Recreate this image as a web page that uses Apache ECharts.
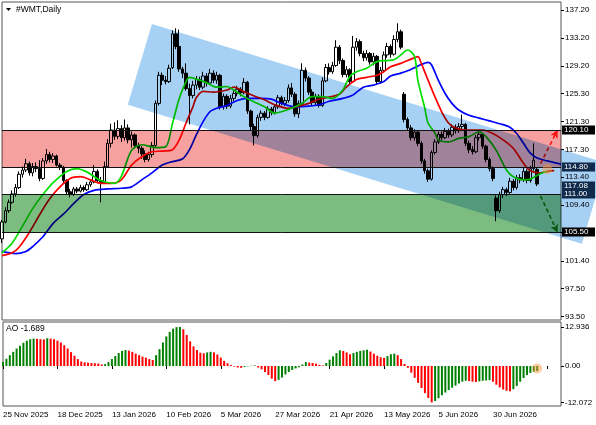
<!DOCTYPE html>
<html>
<head>
<meta charset="utf-8">
<script src="https://cdn.jsdelivr.net/npm/echarts@6/dist/echarts.min.js"></script>
<style>
html, body { margin: 0; padding: 0; background: #fff; }
#chart { width: 596px; height: 425px; }
</style>
</head>
<body>
<div id="chart"></div>
<script>
// symbol / panel captions
var symbolName = '#WMT,Daily';

// date labels, one every 16 bars
var dateTicks = ['25 Nov 2025', '18 Dec 2025', '13 Jan 2026', '10 Feb 2026', '5 Mar 2026',
    '27 Mar 2026', '21 Apr 2026', '13 May 2026', '5 Jun 2026', '30 Jun 2026'];
var tickStep = 16;
var slotCount = 165; // bars + empty room on the right

// price scale labels as printed by the terminal
var priceTicks = [137.20, 133.20, 129.20, 125.30, 121.30, 117.30, 113.40, 109.40, 105.50, 101.40, 97.50, 93.50];
var aoTicks = [12.936, 0, -12.072];

// daily candles: [open, close, low, high]
var candles = [
    [104.6, 107.0, 104.0, 107.3], [107.0, 108.6, 106.8, 109.1], [108.6, 109.8, 108.3, 110.2], [109.8, 111.0, 109.6, 111.5],
    [111.0, 111.9, 110.6, 112.4], [111.9, 113.8, 111.7, 114.2], [113.8, 114.4, 113.3, 114.9], [114.4, 115.3, 114.1, 116.0],
    [115.3, 114.0, 113.6, 115.6], [114.0, 114.9, 113.5, 115.4], [114.9, 114.6, 114.1, 115.5], [114.6, 113.2, 112.8, 115.8],
    [113.2, 115.7, 113.0, 116.1], [115.7, 116.6, 115.3, 117.4], [116.6, 115.9, 115.5, 117.0], [115.9, 116.4, 115.4, 116.8],
    [116.4, 115.1, 114.9, 116.6], [115.1, 114.8, 114.4, 115.4], [114.8, 112.9, 112.5, 115.0], [112.9, 111.3, 110.9, 113.1],
    [111.3, 110.9, 110.5, 111.7], [110.9, 111.7, 110.7, 112.0], [111.7, 111.4, 111.1, 112.0], [111.4, 111.9, 111.2, 112.3],
    [111.9, 111.6, 111.3, 112.2], [111.6, 112.3, 111.4, 112.7], [112.3, 112.7, 112.0, 113.0], [112.7, 114.2, 112.5, 115.1],
    [114.2, 112.9, 112.6, 114.5], [112.9, 112.6, 109.8, 113.4], [112.6, 114.9, 112.4, 115.6], [114.9, 118.2, 114.7, 118.8],
    [118.2, 120.1, 117.6, 121.0], [120.1, 119.2, 118.7, 121.2], [119.2, 120.3, 118.8, 121.5], [120.3, 119.0, 118.4, 120.8],
    [119.0, 120.4, 118.6, 121.6], [120.4, 118.7, 118.2, 120.9], [118.7, 119.4, 117.6, 119.9], [119.4, 117.9, 117.5, 119.6],
    [117.9, 117.5, 116.8, 118.3], [117.5, 116.7, 116.0, 117.8], [116.7, 115.9, 115.5, 117.2], [115.9, 116.6, 115.6, 117.0],
    [116.6, 117.9, 116.2, 118.4], [117.9, 123.9, 117.7, 124.3], [123.9, 127.9, 123.6, 128.4], [127.9, 127.2, 126.5, 128.3],
    [127.2, 127.0, 126.6, 127.8], [127.0, 128.9, 126.8, 129.4], [129.0, 133.8, 128.8, 134.3], [133.8, 132.0, 131.6, 134.6],
    [132.0, 128.8, 128.4, 134.4], [128.8, 128.2, 127.5, 129.1], [128.2, 126.0, 125.7, 129.6], [126.0, 125.0, 120.9, 126.7],
    [125.0, 126.5, 124.6, 127.1], [126.5, 127.3, 125.9, 127.8], [127.3, 126.2, 125.8, 127.7], [126.2, 127.8, 125.9, 128.4],
    [127.8, 126.8, 126.3, 128.2], [126.8, 128.2, 126.5, 128.8], [128.2, 127.2, 126.8, 128.6], [127.2, 127.9, 126.7, 128.4],
    [127.9, 123.4, 123.0, 128.1], [123.4, 124.9, 123.0, 125.3], [124.9, 123.5, 123.1, 125.2], [123.5, 124.6, 123.2, 125.1],
    [124.6, 125.3, 124.2, 125.8], [125.3, 125.9, 124.9, 126.4], [125.9, 125.4, 124.9, 126.2], [125.4, 126.9, 125.2, 127.5],
    [126.9, 122.8, 122.4, 127.1], [122.8, 120.6, 120.1, 123.0], [120.6, 119.3, 117.9, 121.0], [119.3, 121.9, 119.0, 122.3],
    [121.9, 122.5, 121.4, 122.9], [122.5, 121.9, 121.5, 122.8], [121.9, 123.1, 121.7, 123.5], [123.1, 122.6, 122.2, 123.4],
    [122.6, 123.4, 122.3, 123.8], [123.4, 124.7, 123.1, 125.1], [124.7, 123.9, 123.6, 125.0], [123.9, 124.3, 123.5, 124.8],
    [124.3, 126.1, 124.0, 126.6], [126.1, 125.2, 124.8, 126.8], [125.2, 122.4, 122.0, 125.5], [122.4, 123.9, 121.8, 124.3],
    [123.9, 128.6, 123.7, 129.6], [128.6, 127.5, 127.0, 129.0], [127.5, 125.5, 125.1, 127.8], [125.5, 124.0, 123.6, 125.9],
    [124.0, 124.9, 123.6, 125.3], [124.9, 123.6, 123.3, 125.2], [123.6, 127.1, 123.4, 127.6], [127.1, 129.0, 126.9, 129.5],
    [129.0, 128.4, 128.0, 129.6], [128.4, 129.3, 128.1, 129.8], [129.3, 131.9, 129.1, 132.9], [131.9, 130.0, 129.5, 132.2],
    [130.0, 128.0, 127.6, 130.3], [128.0, 128.7, 127.6, 129.2], [128.7, 127.0, 126.6, 128.9], [127.0, 131.9, 126.8, 133.5],
    [131.9, 132.7, 131.4, 133.2], [132.7, 131.0, 130.6, 133.0], [131.0, 130.4, 129.9, 131.4], [130.4, 131.0, 130.0, 131.5],
    [131.0, 129.8, 129.4, 131.2], [129.8, 130.6, 129.3, 131.1], [130.6, 127.0, 126.6, 130.8], [127.0, 128.6, 126.7, 129.1],
    [128.6, 130.8, 128.3, 131.3], [130.8, 132.0, 130.4, 132.5], [132.0, 130.9, 130.4, 132.3], [130.9, 133.0, 130.7, 133.6],
    [133.0, 134.1, 132.6, 135.3], [134.1, 131.9, 131.6, 134.4], [125.2, 121.6, 121.2, 125.5], [121.6, 120.4, 120.0, 121.9],
    [120.4, 119.0, 118.6, 120.8], [119.0, 119.8, 118.6, 120.2], [119.8, 118.2, 117.8, 120.0], [118.2, 115.7, 115.3, 118.5],
    [115.7, 114.3, 113.9, 116.0], [114.3, 113.1, 112.7, 114.6], [113.1, 116.9, 112.9, 117.2], [116.9, 118.4, 116.6, 118.8],
    [118.4, 119.5, 118.1, 119.9], [119.5, 119.0, 118.6, 119.9], [119.0, 119.9, 118.8, 120.4], [119.9, 119.4, 119.0, 120.3],
    [119.4, 120.5, 119.1, 120.9], [120.5, 120.0, 119.6, 120.9], [120.0, 120.6, 119.7, 121.1], [120.6, 120.9, 120.2, 122.3],
    [120.9, 118.2, 117.8, 121.1], [118.2, 117.3, 116.8, 118.6], [117.3, 117.0, 116.6, 117.8], [117.0, 119.0, 116.8, 119.4],
    [119.0, 119.5, 118.6, 119.9], [119.5, 117.8, 117.4, 119.7], [117.8, 115.9, 115.5, 118.0], [115.9, 114.6, 114.2, 116.2],
    [114.6, 113.2, 112.8, 114.9], [110.4, 108.6, 107.1, 110.8], [108.6, 110.9, 108.3, 111.3], [110.9, 111.6, 110.4, 112.0],
    [111.6, 111.2, 110.7, 111.9], [111.2, 112.8, 111.0, 113.3], [112.8, 111.9, 111.5, 113.1], [111.9, 113.3, 111.6, 113.7],
    [113.3, 113.0, 112.5, 113.8], [113.0, 114.2, 112.7, 114.7], [114.2, 112.9, 112.5, 114.5], [112.9, 114.6, 112.6, 115.0],
    [114.6, 115.8, 114.3, 118.2], [114.5, 112.4, 112.1, 114.8]
];

// Alligator lines: [bar, price]
var jawLine = [[0, 102.8], [4, 102.5], [7, 102.8], [9, 103.5], [12, 104.9], [15, 106.8], [18, 108.1], [21, 109.6],
    [24, 110.9], [27, 111.5], [31, 111.7], [35, 111.8], [38, 112.0], [41, 113.0], [44, 114.0], [47, 115.1], [50, 115.6],
    [53, 116.0], [55, 117.3], [57, 119.4], [59, 121.3], [61, 122.7], [63, 123.2], [66, 123.6], [69, 124.3], [72, 124.6],
    [76, 124.6], [79, 124.5], [82, 123.9], [86, 123.4], [90, 123.5], [93, 123.7], [96, 124.2], [100, 124.6], [103, 125.1],
    [106, 126.2], [109, 126.5], [112, 127.0], [114, 127.8], [117, 128.2], [119, 128.55], [122, 129.2], [125, 129.75],
    [126, 129.4], [128, 127.2], [130, 125.3], [132, 123.9], [134, 122.95], [137, 122.2], [140, 121.8], [143, 121.4],
    [146, 121.0], [149, 120.5], [151, 119.6], [153, 118.2], [155, 116.8], [157, 116.1], [160, 115.7], [163, 115.35], [164, 115.25]];
var teethLine = [[0, 102.2], [3, 102.6], [5, 103.4], [8, 105.5], [11, 108.0], [14, 110.3], [17, 112.0], [20, 113.2],
    [23, 113.45], [26, 113.0], [29, 112.5], [32, 112.5], [35, 113.0], [38, 115.1], [41, 116.3], [44, 117.0], [47, 117.1],
    [50, 117.3], [52, 118.7], [54, 121.1], [56, 123.4], [57, 124.7], [59, 125.6], [62, 125.5], [66, 125.8], [68, 126.2],
    [71, 125.55], [74, 124.95], [77, 124.4], [80, 123.7], [84, 123.2], [87, 123.5], [90, 123.9], [93, 124.5], [96, 124.8],
    [99, 125.2], [101, 126.2], [104, 127.3], [107, 127.6], [110, 127.9], [112, 128.4], [114, 129.1], [117, 129.6],
    [120, 130.2], [122, 130.55], [123, 129.6], [125, 127.2], [127, 124.85], [129, 122.7], [131, 121.1], [133, 120.4],
    [136, 120.1], [139, 120.1], [141, 120.1], [144, 119.6], [147, 118.7], [150, 117.5], [153, 115.35], [155, 114.3],
    [158, 114.0], [160, 114.2], [162, 114.3]];
var lipsLine = [[0, 102.6], [3, 104.0], [6, 106.4], [9, 108.9], [12, 110.9], [15, 112.6], [19, 114.2], [22, 114.6],
    [25, 114.1], [29, 112.9], [33, 112.5], [35, 113.5], [38, 117.2], [41, 118.0], [45, 117.6], [48, 117.7], [50, 121.0],
    [52, 124.6], [54, 127.0], [55, 127.6], [58, 127.2], [60, 126.85], [63, 126.2], [66, 126.3], [68, 125.8], [71, 124.85],
    [74, 124.1], [77, 123.4], [80, 122.5], [82, 122.7], [85, 123.2], [88, 123.9], [91, 124.85], [94, 124.85], [97, 124.6],
    [100, 125.8], [102, 127.7], [104, 128.4], [107, 128.9], [110, 129.85], [113, 130.0], [115, 130.1], [117, 130.8],
    [119, 131.5], [121, 130.6], [122, 127.2], [124, 123.3], [125, 121.1], [127, 119.7], [128, 118.7], [131, 118.4],
    [134, 118.9], [137, 119.15], [140, 119.85], [142, 119.15], [145, 117.2], [148, 114.4], [150, 113.45], [153, 113.0],
    [155, 113.1], [158, 113.9], [160, 114.2]];

// Awesome Oscillator, one value per candle
var aoValues = [1.3, 2.4, 3.6, 4.7, 5.8, 6.7, 7.7, 8.4, 8.9, 9.1,
    9.0, 8.9, 8.8, 9.2, 9.1, 8.9, 8.4, 7.8, 6.9, 5.8,
    4.6, 3.4, 2.3, 1.5, 1.2, 1.1, 1.0, 0.9, 0.8, 0.5,
    0.6, 1.3, 2.3, 3.3, 4.3, 5.0, 5.3, 5.1, 4.7, 4.1,
    3.6, 3.1, 2.8, 2.3, 2.0, 3.6, 5.6, 7.8, 9.8, 11.3,
    12.4, 12.9, 12.936, 12.2, 10.3, 8.2, 6.5, 5.3, 4.4, 4.2,
    4.5, 4.7, 4.5, 3.8, 2.8, 1.7, 0.9, 0.3, -0.2, -0.5,
    -0.6, -0.3, -0.1, 0.1, 0.2, -0.5, -1.1, -2.0, -3.0, -4.2,
    -5.0, -4.6, -3.8, -2.8, -2.0, -1.3, -0.8, -0.4, 0.5, 1.3,
    1.1, 1.0, 0.8, 0.4, 0.2, 1.0, 2.1, 3.2, 4.3, 5.2,
    5.0, 4.5, 3.9, 4.3, 4.7, 5.0, 5.2, 5.4, 4.8, 4.1,
    3.4, 2.9, 2.7, 3.3, 3.9, 4.1, 3.6, 2.3, 0.7, -0.6,
    -2.2, -3.9, -5.6, -7.3, -9.0, -10.6, -12.072, -11.6, -10.7, -9.7,
    -8.8, -8.0, -7.2, -6.5, -5.8, -5.2, -4.9, -5.0, -5.2, -5.3,
    -5.1, -4.9, -4.8, -4.7, -5.2, -6.2, -7.1, -7.8, -8.2, -8.4,
    -7.7, -6.6, -5.2, -4.0, -3.0, -2.3, -1.9, -1.689];

// drawn objects (bar index, price)
var redZone = [114.80, 120.10];
var greenZone = [105.50, 111.00];
var channelTL = [44.0, 135.2];
var channelBL = [36.9, 123.7];
var channelBR = [170.1, 103.9];
var upArrow = [[158, 115.3], [163, 120.1]];
var downArrow = [[158, 110.7], [163, 105.5]];
var priceMark = [160, 114.5];

// price tags on the right scale
var priceTags = [120.10, 114.80, 111.00, 105.50];
var tagFills = ['#000000', '#0f2a4a', '#0f2a4a', '#000000'];
var stackedTag = 117.08; // terminal stacks it right above the 111.00 tag

var FONT = '"Liberation Sans", Arial, sans-serif';
var categories = [];
for (var i = 0; i < slotCount; i++) categories.push(String(i));

var aoLast = aoValues[aoValues.length - 1];
var aoBars = aoValues.map(function (v, i) {
    var up = i === 0 || v > aoValues[i - 1];
    return { value: v, itemStyle: { color: up ? '#008000' : '#ff0000' } };
});

function tagBox(x, y, text, fill) {
    return [
        { type: 'rect', shape: { x: x, y: y - 4.5, width: 33, height: 9 }, style: { fill: fill } },
        { type: 'text', x: x + 2, y: y, style: { text: text, fill: '#fff', font: '8px ' + FONT, verticalAlign: 'middle' } }
    ];
}

function renderTags(params, api) {
    var cs = params.coordSys;
    var x = cs.x + cs.width + 1;
    var kids = [];
    priceTags.forEach(function (v, k) {
        kids = kids.concat(tagBox(x, Math.round(api.coord([0, v])[1]), v.toFixed(2), tagFills[k]));
    });
    var yStack = Math.round(api.coord([0, priceTags[2]])[1]) - 8;
    kids = kids.concat(tagBox(x, yStack, stackedTag.toFixed(2), tagFills[2]));
    return { type: 'group', children: kids };
}

function alligator(data, color) {
    return {
        type: 'line', data: data, xAxisIndex: 0, yAxisIndex: 0, z: 3,
        showSymbol: false, smooth: 0.3, silent: true,
        lineStyle: { color: color, width: 1.7 }
    };
}

function arrowLine(seg, color) {
    return {
        symbol: ['none', 'arrow'], symbolSize: [6, 8],
        lineStyle: { color: color, type: [4, 3], width: 1.6 },
        label: { show: false },
        data: [[{ coord: seg[0] }, { coord: seg[1] }]]
    };
}

var chart = echarts.init(document.getElementById('chart'), null, { renderer: 'canvas', devicePixelRatio: 1 });

chart.setOption({
    animation: false,
    backgroundColor: '#ffffff',
    textStyle: { fontFamily: FONT },
    grid: [
        { left: 2, right: 35, top: 2, height: 318, show: true, borderColor: '#555', borderWidth: 1, backgroundColor: 'transparent' },
        { left: 2, right: 35, top: 322, height: 84, show: true, borderColor: '#555', borderWidth: 1, backgroundColor: 'transparent' }
    ],
    xAxis: [
        { type: 'category', gridIndex: 0, data: categories, boundaryGap: false, show: false },
        {
            type: 'category', gridIndex: 1, data: categories, boundaryGap: false,
            axisLine: { show: false },
            axisTick: { show: true, length: 3, lineStyle: { color: '#000' }, interval: function (i) { return i % tickStep === 0; } },
            axisLabel: {
                show: true, fontSize: 8, color: '#000', align: 'left', margin: 5,
                interval: function (i) { return i % tickStep === 0; },
                formatter: function (v, i) { return dateTicks[i / tickStep] || ''; }
            },
            splitLine: { show: false }
        }
    ],
    yAxis: [
        {
            type: 'value', gridIndex: 0, position: 'right', min: 93.03, max: 138.34,
            axisLine: { show: false }, splitLine: { show: false },
            axisTick: { show: true, length: 3, lineStyle: { color: '#000' }, customValues: priceTicks },
            axisLabel: { fontSize: 8, color: '#000', margin: 4, customValues: priceTicks, hideOverlap: false,
                formatter: function (v) { return v.toFixed(2); } }
        },
        {
            type: 'value', gridIndex: 1, position: 'right', min: -13.27, max: 14.6,
            axisLine: { show: false }, splitLine: { show: false },
            axisTick: { show: true, length: 3, lineStyle: { color: '#000' }, customValues: aoTicks },
            axisLabel: { fontSize: 8, color: '#000', margin: 4, customValues: aoTicks,
                formatter: function (v) { return v === 0 ? '0.00' : String(v); } }
        }
    ],
    graphic: [
        { type: 'polygon', shape: { points: [[6, 8], [11, 8], [8.5, 11]] }, style: { fill: '#000' } },
        { type: 'text', left: 16, top: 5, style: { text: symbolName, font: '8.5px ' + FONT, fill: '#000' } },
        { type: 'text', left: 6, top: 324, style: { text: 'AO ' + aoLast.toFixed(3), font: '8.5px ' + FONT, fill: '#000' } }
    ],
    series: [
        {
            type: 'candlestick', xAxisIndex: 0, yAxisIndex: 0, data: candles, z: 2, barWidth: 3,
            itemStyle: { color: '#ffffff', color0: '#000000', borderColor: '#000000', borderColor0: '#000000', borderWidth: 1 }
        },
        alligator(jawLine, '#0000ff'),
        alligator(teethLine, '#ff0000'),
        alligator(lipsLine, '#00e000'),
        {
            type: 'line', xAxisIndex: 0, yAxisIndex: 0, data: [], z: 12, silent: true,
            markLine: arrowLine(upArrow, '#ff1a1a')
        },
        {
            type: 'line', xAxisIndex: 0, yAxisIndex: 0, data: [], z: 12, silent: true,
            markLine: arrowLine(downArrow, '#1a8f1a')
        },
        {
            type: 'scatter', xAxisIndex: 0, yAxisIndex: 0, data: [priceMark], z: 12, silent: true,
            symbolSize: 10, itemStyle: { color: 'rgba(255,150,60,0.6)' }
        },
        {
            type: 'custom', xAxisIndex: 0, yAxisIndex: 0, data: [0], z: 12, clip: false, silent: true,
            renderItem: renderTags
        },
        {
            type: 'bar', xAxisIndex: 1, yAxisIndex: 1, data: aoBars, barWidth: 2, z: 2, silent: true
        },
        {
            type: 'scatter', xAxisIndex: 1, yAxisIndex: 1, data: [[aoValues.length - 1, aoLast / 2]], z: 12, silent: true,
            symbolSize: 10, itemStyle: { color: 'rgba(255,150,60,0.6)' }
        }
    ]
});

// chart objects (channel + zones) are painted over the bars with a multiply blend, like the terminal does
var zr = chart.getZr();
var p0 = chart.convertToPixel({ gridIndex: 0 }, [0, 100]);
var p1 = chart.convertToPixel({ gridIndex: 0 }, [100, 100]);
function xOf(idx) { return p0[0] + idx * (p1[0] - p0[0]) / 100; }
function yOf(price) { return chart.convertToPixel({ yAxisIndex: 0 }, price); }
var plotLeft = xOf(0), plotRight = xOf(slotCount - 1);

var channelTR = [channelTL[0] + channelBR[0] - channelBL[0], channelTL[1] + channelBR[1] - channelBL[1]];
zr.add(new echarts.graphic.Polygon({
    silent: true, z: 10, z2: 0,
    shape: { points: [channelTL, channelTR, channelBR, channelBL].map(function (p) { return [xOf(p[0]), yOf(p[1])]; }) },
    style: { fill: '#a6d1f5', blend: 'multiply' }
}));

[[redZone, '#f6a0a0'], [greenZone, '#7dbc80']].forEach(function (z) {
    var yTop = Math.round(yOf(z[0][1])) + 0.5;
    var yBot = Math.round(yOf(z[0][0])) + 0.5;
    zr.add(new echarts.graphic.Rect({
        silent: true, z: 10, z2: 1,
        shape: { x: plotLeft, y: yTop, width: plotRight - plotLeft, height: yBot - yTop },
        style: { fill: z[1], blend: 'multiply' }
    }));
    [yTop, yBot].forEach(function (y) {
        zr.add(new echarts.graphic.Line({
            silent: true, z: 10, z2: 2,
            shape: { x1: plotLeft, y1: y, x2: plotRight, y2: y },
            style: { stroke: '#111', lineWidth: 1 }
        }));
    });
});
</script>
</body>
</html>
